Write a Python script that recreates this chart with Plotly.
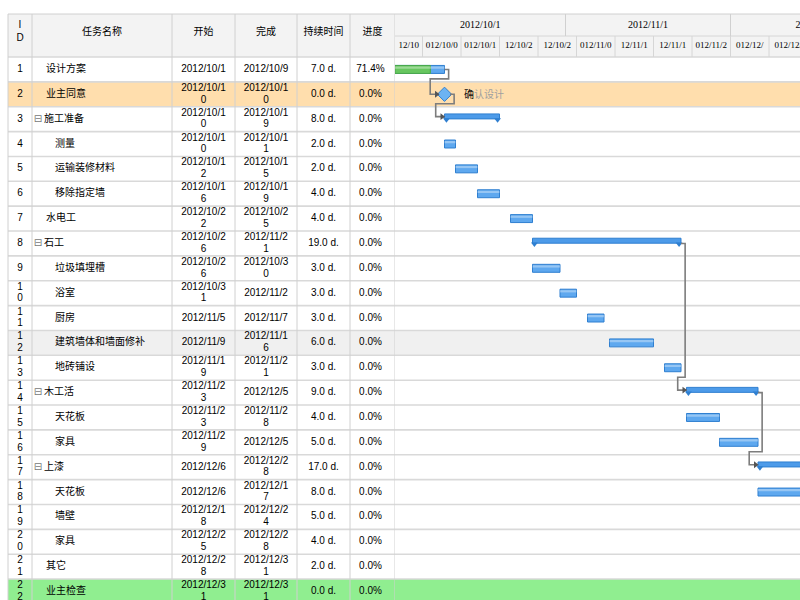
import plotly.graph_objects as go
from datetime import datetime, timedelta

# ---------------- data ----------------
ids = list(range(1, 23))
names = ["设计方案", "业主同意", "施工准备", "测量", "运输装修材料", "移除指定墙", "水电工",
         "石工", "垃圾填埋槽", "浴室", "厨房", "建筑墙体和墙面修补", "地砖铺设", "木工活",
         "天花板", "家具", "上漆", "天花板", "墙壁", "家具", "其它", "业主检查"]
levels = [0, 0, 0, 1, 1, 1, 0, 0, 1, 1, 1, 1, 1, 0, 1, 1, 0, 1, 1, 1, 0, 0]
is_summary = [False, False, True, False, False, False, False, True, False, False, False,
              False, False, True, False, False, True, False, False, False, False, False]
starts = ["2012/10/1", "2012/10/10", "2012/10/10", "2012/10/10", "2012/10/12", "2012/10/16",
          "2012/10/22", "2012/10/26", "2012/10/26", "2012/10/31", "2012/11/5", "2012/11/9",
          "2012/11/19", "2012/11/23", "2012/11/23", "2012/11/29", "2012/12/6", "2012/12/6",
          "2012/12/18", "2012/12/25", "2012/12/28", "2012/12/31"]
ends = ["2012/10/9", "2012/10/10", "2012/10/19", "2012/10/11", "2012/10/15", "2012/10/19",
        "2012/10/25", "2012/11/21", "2012/10/30", "2012/11/2", "2012/11/7", "2012/11/16",
        "2012/11/21", "2012/12/5", "2012/11/28", "2012/12/5", "2012/12/28", "2012/12/17",
        "2012/12/24", "2012/12/28", "2012/12/31", "2012/12/31"]
durations = [7, 0, 8, 2, 2, 4, 4, 19, 3, 3, 3, 6, 3, 9, 4, 5, 17, 8, 5, 4, 2, 0]
progress = [71.4] + [0.0] * 21
links = [(1, 2), (2, 3), (8, 14), (14, 17)]
milestone_label = "确认设计"

header_cols = ["I<br>D", "任务名称", "开始", "完成", "持续时间", "进度"]
month_starts = ["2012/10/1", "2012/11/1", "2012/12/1", "2013/1/1"]
month_labels = ["2012/10/1", "2012/11/1", "2012/12/1"]
week_bounds = ["2012/10/1", "2012/10/6", "2012/10/13", "2012/10/20", "2012/10/27", "2012/11/3",
               "2012/11/10", "2012/11/17", "2012/11/24", "2012/12/1", "2012/12/8", "2012/12/15"]
week_labels = ["12/10", "012/10/0", "012/10/1", "12/10/2", "12/10/2", "012/11/0",
               "12/11/1", "12/11/1", "012/11/2", "012/12/", "012/12/"]

# ---------------- layout constants ----------------
W, H = 800, 600
ROW = 24.86          # row pitch (px)
BODY_TOP = 57        # first row top (px)
TBL_TOP = 14
SPLIT = 395          # table / gantt split (px)
PX_DAY = 5.5
col_edges = [8, 32, 172, 235, 297, 350, 395]

def yv(p):
    return 0.5 + (p - BODY_TOP) / ROW

Y_TOP, Y_BOT = yv(0), yv(H)
Y_HDR = yv(TBL_TOP)
Y_HMID = yv(36)

def d(s):
    return datetime.strptime(s, "%Y/%m/%d")

t0 = d("2012/10/1")
t1 = t0 + timedelta(days=(W - SPLIT) / PX_DAY)

FONT = "Liberation Sans, Noto Sans CJK SC, sans-serif"
GRID = "#d9d9d9"

fig = go.Figure()

# ---------------- shapes: backgrounds & grid ----------------
shapes = []
shapes.append(dict(type="rect", xref="paper", yref="y", x0=8 / W, x1=1, y0=Y_HDR, y1=0.5,
                   fillcolor="#f3f3f3", line_width=0, layer="below"))
row_bg = {2: "#FFDEAD", 12: "#f0f0f0", 22: "#90EE90"}
for k, c in row_bg.items():
    shapes.append(dict(type="rect", xref="paper", yref="y", x0=8 / W, x1=1, y0=k - 0.5, y1=k + 0.5,
                       fillcolor=c, line_width=0, layer="below"))
for k in range(0, 23):
    shapes.append(dict(type="line", xref="paper", yref="y", x0=8 / W, x1=1, y0=k + 0.5, y1=k + 0.5,
                       line=dict(color=GRID, width=1.6), layer="below"))
shapes.append(dict(type="line", xref="paper", yref="y", x0=8 / W, x1=1, y0=Y_HDR, y1=Y_HDR,
                   line=dict(color="#d0d0d0", width=1), layer="below"))
shapes.append(dict(type="line", xref="paper", yref="y", x0=SPLIT / W, x1=1, y0=Y_HMID, y1=Y_HMID,
                   line=dict(color="#d6d6d6", width=1), layer="below"))
for xe in col_edges:
    shapes.append(dict(type="line", xref="x", yref="y", x0=xe, x1=xe, y0=Y_HDR, y1=Y_BOT,
                       line=dict(color="#d0d0d0", width=1), layer="below"))
for ms in month_starts[1:]:
    shapes.append(dict(type="line", xref="x2", yref="y", x0=d(ms), x1=d(ms), y0=Y_HDR, y1=Y_HMID,
                       line=dict(color="#d0d0d0", width=1), layer="below"))
for wb in week_bounds[1:-1]:
    shapes.append(dict(type="line", xref="x2", yref="y", x0=d(wb), x1=d(wb), y0=Y_HMID, y1=0.5,
                       line=dict(color="#d6d6d6", width=1), layer="below"))

# ---------------- table header text ----------------
hx = [(col_edges[i] + col_edges[i + 1]) / 2 for i in range(6)]
fig.add_trace(go.Scatter(x=hx, y=[yv(32)] * 6, text=header_cols, mode="text",
                         textfont=dict(size=10, color="#000", family=FONT), xaxis="x", yaxis="y",
                         cliponaxis=False, showlegend=False, hoverinfo="skip"))

# ---------------- gantt header text ----------------
mx = [d(month_starts[i]) + (d(month_starts[i + 1]) - d(month_starts[i])) / 2 for i in range(3)]
fig.add_trace(go.Scatter(x=mx, y=[yv(25)] * 3, text=month_labels, mode="text",
                         textfont=dict(size=10, color="#000", family="Liberation Serif, serif"),
                         xaxis="x2", yaxis="y", showlegend=False, hoverinfo="skip"))
wx = [d(week_bounds[i]) + (d(week_bounds[i + 1]) - d(week_bounds[i])) / 2 for i in range(len(week_labels))]
fig.add_trace(go.Scatter(x=wx, y=[yv(46)] * len(week_labels), text=week_labels, mode="text",
                         textfont=dict(size=9, color="#000", family="Liberation Serif, serif"),
                         xaxis="x2", yaxis="y", showlegend=False, hoverinfo="skip"))

# ---------------- table body text ----------------
def wrap(s, n):
    return (s[:n], s[n:]) if len(s) > n else (s, None)

def column_points(values, xc, n):
    xs, ys, ts = [], [], []
    for k, v in zip(ids, values):
        a, b = wrap(v, n)
        if b is None:
            xs.append(xc); ys.append(k); ts.append(a)
        else:
            xs += [xc, xc]; ys += [k - 0.24, k + 0.23]; ts += [a, b]
    return xs, ys, ts

cols = [
    ([str(i) for i in ids], hx[0], 1),
    (starts, hx[2], 9),
    (ends, hx[3], 9),
    ([f"{v:.1f} d." for v in durations], hx[4], 20),
    ([f"{v:.1f}%" for v in progress], hx[5] - 2, 20),
]
for vals, xc, n in cols:
    xs, ys, ts = column_points(vals, xc, n)
    fig.add_trace(go.Scatter(x=xs, y=ys, text=ts, mode="text",
                             textfont=dict(size=10, color="#000", family=FONT),
                             xaxis="x", yaxis="y", cliponaxis=False, showlegend=False, hoverinfo="skip"))

name_x = [55 if lv == 1 else (44 if sm else 46) for lv, sm in zip(levels, is_summary)]
fig.add_trace(go.Scatter(x=name_x, y=ids, text=names, mode="text", textposition="middle right",
                         textfont=dict(size=10, color="#000", family=FONT),
                         xaxis="x", yaxis="y", cliponaxis=False, showlegend=False, hoverinfo="skip"))
sum_rows = [k for k, sm in zip(ids, is_summary) if sm]
fig.add_trace(go.Scatter(x=[38] * len(sum_rows), y=sum_rows, text=["⊟"] * len(sum_rows), mode="text",
                         textfont=dict(size=10, color="#777", family="DejaVu Sans"),
                         xaxis="x", yaxis="y", cliponaxis=False, showlegend=False, hoverinfo="skip"))

# ---------------- gantt bars ----------------
task_rows = [k for k, sm, du in zip(ids, is_summary, durations) if not sm and du > 0]
def idx(k):
    return k - 1

def span_ms(k):
    return ((d(ends[idx(k)]) + timedelta(days=1)) - d(starts[idx(k)])).total_seconds() * 1000

fig.add_trace(go.Bar(orientation="h", y=task_rows, x=[span_ms(k) for k in task_rows],
                     base=[d(starts[idx(k)]).strftime("%Y-%m-%d") for k in task_rows],
                     width=0.32, offset=-0.16, marker=dict(color="#5ea8ef", line=dict(color="#2f7fd0", width=1)),
                     xaxis="x2", yaxis="y", showlegend=False, hoverinfo="skip"))
prog_rows = [k for k in task_rows if progress[idx(k)] > 0]
fig.add_trace(go.Bar(orientation="h", y=prog_rows, x=[span_ms(k) * progress[idx(k)] / 100 for k in prog_rows],
                     base=[d(starts[idx(k)]).strftime("%Y-%m-%d") for k in prog_rows],
                     width=0.32, offset=-0.16, marker=dict(color="#67c65f", line=dict(color="#4aa84a", width=1)),
                     xaxis="x2", yaxis="y", showlegend=False, hoverinfo="skip"))
fig.add_trace(go.Bar(orientation="h", y=task_rows, x=[span_ms(k) for k in task_rows],
                     base=[d(starts[idx(k)]).strftime("%Y-%m-%d") for k in task_rows],
                     width=0.09, offset=-0.12, marker=dict(color="rgba(255,255,255,0.35)", line=dict(width=0)),
                     xaxis="x2", yaxis="y", showlegend=False, hoverinfo="skip"))

# summary bars
fig.add_trace(go.Bar(orientation="h", y=sum_rows, x=[span_ms(k) for k in sum_rows],
                     base=[d(starts[idx(k)]).strftime("%Y-%m-%d") for k in sum_rows],
                     width=0.2, offset=-0.21, marker=dict(color="#4d9be9", line=dict(color="#2f7fd0", width=1)),
                     xaxis="x2", yaxis="y", showlegend=False, hoverinfo="skip"))
cap_x, cap_y = [], []
for k in sum_rows:
    cap_x += [d(starts[idx(k)]) + timedelta(days=0.35), d(ends[idx(k)]) + timedelta(days=0.65)]
    cap_y += [k + 0.02, k + 0.02]
fig.add_trace(go.Scatter(x=cap_x, y=cap_y, mode="markers", xaxis="x2", yaxis="y",
                         marker=dict(symbol="triangle-down", size=6, color="#2f7fd0"),
                         showlegend=False, hoverinfo="skip"))

# milestones
ms_rows = [k for k, du in zip(ids, durations) if du == 0]
fig.add_trace(go.Scatter(x=[d(starts[idx(k)]) for k in ms_rows], y=ms_rows, mode="markers",
                         xaxis="x2", yaxis="y",
                         marker=dict(symbol="diamond", size=11, color="#6cb3f3", line=dict(color="#2f7fd0", width=1)),
                         showlegend=False, hoverinfo="skip"))

# dependency connectors
lx, ly, ax, ay = [], [], [], []
for p, s in links:
    pi, si = idx(p), idx(s)
    if durations[pi] == 0:
        pe = d(starts[pi]) + timedelta(days=1.0)
    else:
        pe = d(ends[pi]) + timedelta(days=1)
    ts = d(starts[si]) - (timedelta(days=1.0) if durations[si] == 0 else timedelta(0))
    ys = s - (0.1 if is_summary[si] else 0)
    xa = pe + timedelta(days=0.75)
    xb = ts - timedelta(days=1.6)
    lx += [pe, xa, xa, xb, xb, ts, None]
    ly += [p, p, s - 0.62, s - 0.62, ys, ys, None]
    ax.append(ts - timedelta(days=0.45)); ay.append(ys)
fig.add_trace(go.Scatter(x=lx, y=ly, mode="lines", xaxis="x2", yaxis="y",
                         line=dict(color="#7d7d7d", width=1.6), showlegend=False, hoverinfo="skip"))
fig.add_trace(go.Scatter(x=ax, y=ay, mode="markers", xaxis="x2", yaxis="y",
                         marker=dict(symbol="triangle-right", size=6, color="#555"),
                         showlegend=False, hoverinfo="skip"))

annotations = [dict(x=d(starts[idx(2)]), y=2, xref="x2", yref="y", xanchor="left", xshift=17,
                    text='<span style="color:#111">' + milestone_label[0] + '</span>' + milestone_label[1:],
                    showarrow=False, font=dict(size=10, color="#a0a0a0", family=FONT))]

fig.update_layout(
    width=W, height=H, autosize=False,
    margin=dict(l=0, r=0, t=0, b=0),
    paper_bgcolor="white", plot_bgcolor="white",
    barmode="overlay", hovermode=False,
    font=dict(family=FONT, size=10, color="#000"),
    shapes=shapes, annotations=annotations,
    xaxis=dict(domain=[0, SPLIT / W], range=[0, SPLIT], visible=False, fixedrange=True),
    xaxis2=dict(domain=[SPLIT / W, 1], range=[t0, t1], type="date", visible=False,
                anchor="y", fixedrange=True),
    yaxis=dict(range=[Y_BOT, Y_TOP], visible=False, fixedrange=True),
)

fig.write_html("out.html")
